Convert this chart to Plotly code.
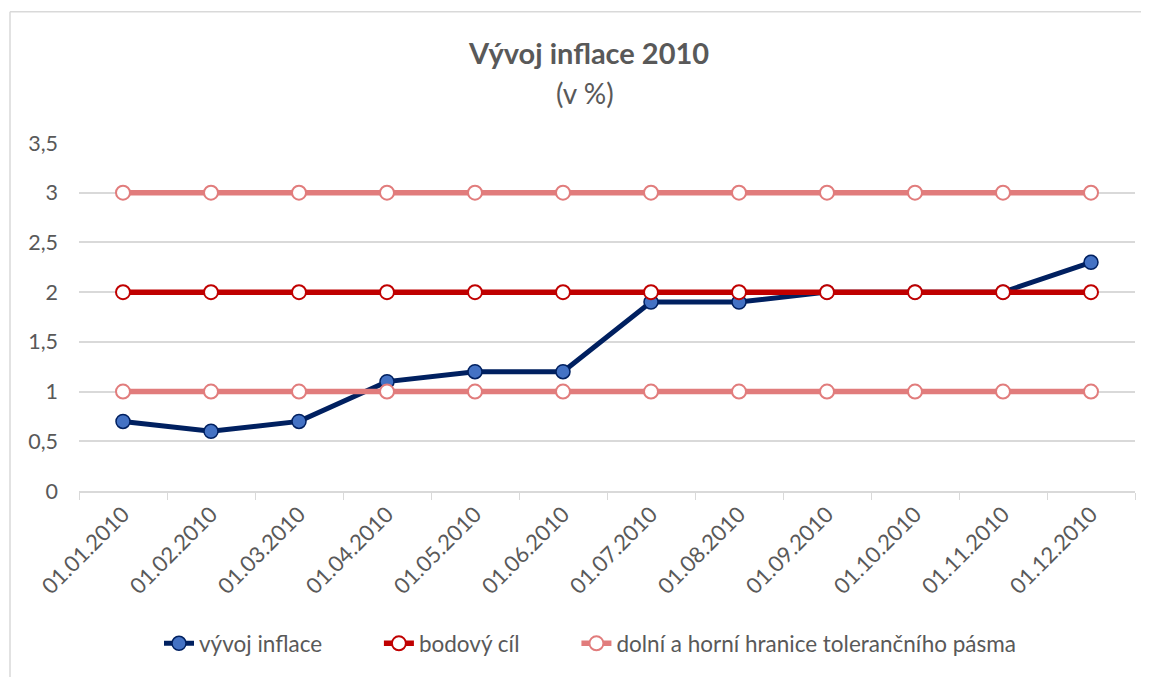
import plotly.graph_objects as go

categories = ["01.01.2010", "01.02.2010", "01.03.2010", "01.04.2010", "01.05.2010", "01.06.2010",
              "01.07.2010", "01.08.2010", "01.09.2010", "01.10.2010", "01.11.2010", "01.12.2010"]
inflace = [0.7, 0.6, 0.7, 1.1, 1.2, 1.2, 1.9, 1.9, 2.0, 2.0, 2.0, 2.3]
bodovy_cil = [2, 2, 2, 2, 2, 2, 2, 2, 2, 2, 2, 2]
dolni_hranice = [1, 1, 1, 1, 1, 1, 1, 1, 1, 1, 1, 1]
horni_hranice = [3, 3, 3, 3, 3, 3, 3, 3, 3, 3, 3, 3]
y_ticks = [0, 0.5, 1, 1.5, 2, 2.5, 3, 3.5]
y_labels = ["0", "0,5", "1", "1,5", "2", "2,5", "3", "3,5"]

FONT = "Lato"
GREY = "#595959"
NAVY = "#002060"
BLUE = "#4472C4"
RED = "#C00000"
PINK = "#E17C7C"
GAP = "\u00a0" * 9

fig = go.Figure()
fig.add_trace(go.Scatter(x=categories, y=inflace, name="vývoj inflace" + GAP, mode="lines+markers",
                         line=dict(color=NAVY, width=5),
                         marker=dict(size=14, color=BLUE, line=dict(color=NAVY, width=1.5))))
fig.add_trace(go.Scatter(x=categories, y=bodovy_cil, name="bodový cíl" + GAP, mode="lines+markers",
                         line=dict(color=RED, width=5.5),
                         marker=dict(size=14, color="white", line=dict(color=RED, width=2))))
fig.add_trace(go.Scatter(x=categories, y=dolni_hranice, name="dolní a horní hranice tolerančního pásma",
                         mode="lines+markers", legendgroup="hr",
                         line=dict(color=PINK, width=5.5),
                         marker=dict(size=14, color="white", line=dict(color=PINK, width=2))))
fig.add_trace(go.Scatter(x=categories, y=horni_hranice, name="dolní a horní hranice tolerančního pásma",
                         mode="lines+markers", legendgroup="hr", showlegend=False,
                         line=dict(color=PINK, width=5.5),
                         marker=dict(size=14, color="white", line=dict(color=PINK, width=2))))

# the page body has an 8px margin; all reference pixel positions are shifted by it
OFF = 8
W, H = 1149 - OFF, 677 - OFF
L = 79 - OFF
R = W - (1135 - OFF)
T = 143 - OFF
B = H - (494 - OFF)
pw, ph = W - L - R, H - T - B

def px(xpix):
    return (xpix - OFF - L) / pw

def py(ypix):
    return (H - B - (ypix - OFF)) / ph

fig.update_layout(
    width=W, height=H,
    margin=dict(l=L, r=R, t=T, b=B),
    paper_bgcolor="white", plot_bgcolor="white",
    font=dict(family=FONT, color=GREY, size=21),
    showlegend=True,
    legend=dict(orientation="h", x=px(590), xanchor="center", y=py(648), yanchor="middle",
                font=dict(size=22.5, color=GREY), traceorder="normal"),
    xaxis=dict(type="category", showgrid=False, showline=True, linecolor="#d9d9d9", linewidth=1.5,
               ticks="outside", ticklen=7, tickcolor="#d9d9d9", tickson="boundaries",
               tickangle=-45, tickfont=dict(size=22, color=GREY), range=[-0.5, 11.5]),
    yaxis=dict(range=[0, 3.5], tickvals=y_ticks, ticktext=y_labels, showgrid=True,
               gridcolor="#d9d9d9", gridwidth=1.5, zeroline=False, showline=False,
               tickfont=dict(size=21.5, color=GREY), ticklabelstandoff=20),
    annotations=[
        dict(text="<b>Vývoj inflace 2010</b>", xref="paper", yref="paper", x=px(588), y=py(52),
             showarrow=False, font=dict(size=29, color=GREY, family=FONT), xanchor="center", yanchor="middle"),
        dict(text="(v %)", xref="paper", yref="paper", x=px(585), y=py(93),
             showarrow=False, font=dict(size=28, color=GREY, family=FONT), xanchor="center", yanchor="middle"),
    ],
    shapes=[
        dict(type="line", xref="paper", yref="paper", x0=px(10), x1=px(1170), y0=py(10.5), y1=py(10.5),
             line=dict(color="#d9d9d9", width=1.5)),
        dict(type="line", xref="paper", yref="paper", x0=px(10), x1=px(10), y0=py(10.5), y1=py(700),
             line=dict(color="#d9d9d9", width=1.5)),
    ],
)

fig.write_html("out.html")
